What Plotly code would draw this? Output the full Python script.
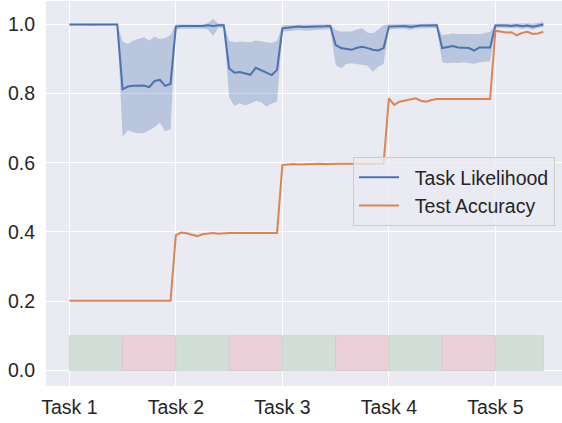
import plotly.graph_objects as go

# ---------------- data ----------------
epochs = list(range(90))

task_ticks = [0, 20, 40, 60, 80]
task_labels = ["Task 1", "Task 2", "Task 3", "Task 4", "Task 5"]

y_ticks = [0.0, 0.2, 0.4, 0.6, 0.8, 1.0]
y_tick_labels = ["0.0", "0.2", "0.4", "0.6", "0.8", "1.0"]

likelihood_mean = [
    0.999, 0.999, 0.999, 0.999, 0.997, 0.999, 0.999, 0.999, 0.999, 0.999,
    0.812, 0.820, 0.822, 0.823, 0.823, 0.818, 0.836, 0.839, 0.822, 0.828,
    0.993, 0.995, 0.995, 0.994, 0.996, 0.995, 0.997, 0.995, 0.997, 0.997,
    0.873, 0.860, 0.862, 0.858, 0.854, 0.874, 0.868, 0.860, 0.853, 0.868,
    0.988, 0.990, 0.992, 0.993, 0.992, 0.992, 0.993, 0.994, 0.994, 0.995,
    0.940, 0.931, 0.929, 0.926, 0.932, 0.935, 0.931, 0.926, 0.924, 0.931,
    0.993, 0.994, 0.995, 0.995, 0.992, 0.995, 0.996, 0.996, 0.997, 0.997,
    0.931, 0.934, 0.937, 0.933, 0.932, 0.931, 0.924, 0.933, 0.933, 0.933,
    0.996, 0.997, 0.996, 0.995, 0.997, 0.994, 0.996, 0.993, 0.997, 0.999,
]

likelihood_upper = [
    1.001, 1.001, 1.001, 1.001, 1.000, 1.001, 1.001, 1.001, 1.001, 1.001,
    0.950, 0.943, 0.953, 0.958, 0.962, 0.953, 0.964, 0.957, 0.960, 0.969,
    0.999, 1.000, 1.000, 1.000, 1.001, 0.999, 1.003, 1.016, 1.001, 1.001,
    0.952, 0.948, 0.950, 0.950, 0.948, 0.953, 0.950, 0.949, 0.946, 0.952,
    0.997, 0.998, 0.999, 1.000, 0.999, 0.999, 1.000, 1.000, 1.000, 1.000,
    0.983, 0.979, 0.980, 0.979, 0.985, 0.988, 0.975, 0.974, 0.985, 0.998,
    1.000, 1.000, 1.001, 1.000, 0.999, 1.001, 1.001, 1.001, 1.001, 1.001,
    0.968, 0.970, 0.973, 0.972, 0.972, 0.974, 0.972, 0.971, 0.975, 0.978,
    1.001, 1.002, 1.001, 1.001, 1.002, 1.001, 1.003, 1.001, 1.004, 1.006,
]

likelihood_lower = [
    0.996, 0.997, 0.997, 0.996, 0.994, 0.996, 0.997, 0.997, 0.997, 0.997,
    0.675, 0.694, 0.688, 0.685, 0.685, 0.694, 0.702, 0.716, 0.690, 0.697,
    0.985, 0.987, 0.987, 0.986, 0.988, 0.987, 0.985, 0.966, 0.990, 0.990,
    0.790, 0.764, 0.772, 0.765, 0.771, 0.778, 0.775, 0.762, 0.771, 0.776,
    0.978, 0.980, 0.982, 0.983, 0.982, 0.981, 0.983, 0.985, 0.985, 0.986,
    0.882, 0.873, 0.885, 0.887, 0.884, 0.882, 0.880, 0.863, 0.877, 0.885,
    0.984, 0.986, 0.987, 0.987, 0.983, 0.987, 0.988, 0.988, 0.989, 0.989,
    0.890, 0.887, 0.889, 0.888, 0.890, 0.888, 0.886, 0.890, 0.892, 0.893,
    0.988, 0.990, 0.989, 0.988, 0.990, 0.986, 0.988, 0.985, 0.989, 0.991,
]

test_accuracy = [
    0.201, 0.201, 0.201, 0.201, 0.201, 0.201, 0.201, 0.201, 0.201, 0.201,
    0.201, 0.201, 0.201, 0.201, 0.201, 0.201, 0.201, 0.201, 0.201, 0.201,
    0.391, 0.398, 0.396, 0.391, 0.388, 0.393, 0.396, 0.397, 0.395, 0.397,
    0.397, 0.397, 0.397, 0.397, 0.397, 0.397, 0.397, 0.397, 0.397, 0.397,
    0.593, 0.595, 0.596, 0.595, 0.596, 0.596, 0.597, 0.597, 0.596, 0.597,
    0.597, 0.597, 0.597, 0.597, 0.597, 0.597, 0.597, 0.597, 0.597, 0.597,
    0.786, 0.767, 0.776, 0.779, 0.783, 0.786, 0.779, 0.776, 0.781, 0.784,
    0.784, 0.784, 0.784, 0.784, 0.784, 0.784, 0.784, 0.784, 0.784, 0.784,
    0.981, 0.978, 0.976, 0.977, 0.968, 0.975, 0.978, 0.972, 0.973, 0.978,
]

# phases shown as coloured strips at the bottom
phase_start = [0, 10, 20, 30, 40, 50, 60, 70, 80]
phase_end = [10, 20, 30, 40, 50, 60, 70, 80, 89]
phase_kind = ["green", "red", "green", "red", "green", "red", "green", "red", "green"]
phase_height = 0.1

series_names = ["Task Likelihood", "Test Accuracy"]

# ---------------- styling ----------------
BLUE = "#4C72B0"
ORANGE = "#DD8452"
BAND = "rgba(76,114,176,0.3)"
BG = "#EAEAF2"
TXT = "#262626"
FONT = "Arial, Liberation Sans, sans-serif"
FS = 19.5
strip_fill = {"green": "#D2DFD8", "red": "#EBD0D9"}
strip_edge = {"green": "#C9DACF", "red": "#E3C3CE"}
pad = "\u00a0\u00a0"

fig = go.Figure()

fig.add_trace(go.Scatter(x=epochs, y=likelihood_upper, mode="lines",
                         line=dict(width=0), showlegend=False, hoverinfo="skip"))
fig.add_trace(go.Scatter(x=epochs, y=likelihood_lower, mode="lines",
                         line=dict(width=0), fill="tonexty", fillcolor=BAND,
                         showlegend=False, hoverinfo="skip"))
fig.add_trace(go.Scatter(x=epochs, y=likelihood_mean, mode="lines",
                         line=dict(color=BLUE, width=2), name=pad + series_names[0]))
fig.add_trace(go.Scatter(x=epochs, y=test_accuracy, mode="lines",
                         line=dict(color=ORANGE, width=2), name=pad + series_names[1]))

for s, e, k in zip(phase_start, phase_end, phase_kind):
    fig.add_shape(type="rect", xref="x", yref="y", x0=s, x1=e, y0=0, y1=phase_height,
                  fillcolor=strip_fill[k], line=dict(color=strip_edge[k], width=1),
                  layer="above")

fig.update_layout(
    width=562, height=423,
    margin=dict(l=46, r=0, t=1, b=37, pad=0, autoexpand=False),
    paper_bgcolor="white", plot_bgcolor=BG,
    font=dict(family=FONT, size=FS, color=TXT),
    legend=dict(x=(353 - 46) / 516, y=(386 - 157) / 385, xanchor="left", yanchor="top",
                bgcolor="rgba(234,234,242,0.8)", bordercolor="#CCCCCC", borderwidth=1,
                font=dict(family=FONT, size=FS, color=TXT), itemwidth=40,
                traceorder="normal"),
)
fig.update_xaxes(range=[-4.38, 92.5], tickvals=task_ticks, ticktext=task_labels,
                 showgrid=True, gridcolor="white", gridwidth=1.3, zeroline=False,
                 showline=False, ticks="", ticklabelstandoff=7, automargin=False,
                 tickfont=dict(family=FONT, size=FS, color=TXT))
fig.update_yaxes(range=[-0.045, 1.067], tickvals=y_ticks, ticktext=y_tick_labels,
                 showgrid=True, gridcolor="white", gridwidth=1.3, zeroline=False,
                 showline=False, ticks="", ticklabelstandoff=10, automargin=False,
                 tickfont=dict(family=FONT, size=FS, color=TXT))

fig.write_html("out.html", config={"displayModeBar": False},
               post_script="document.body.style.margin='0px';")
